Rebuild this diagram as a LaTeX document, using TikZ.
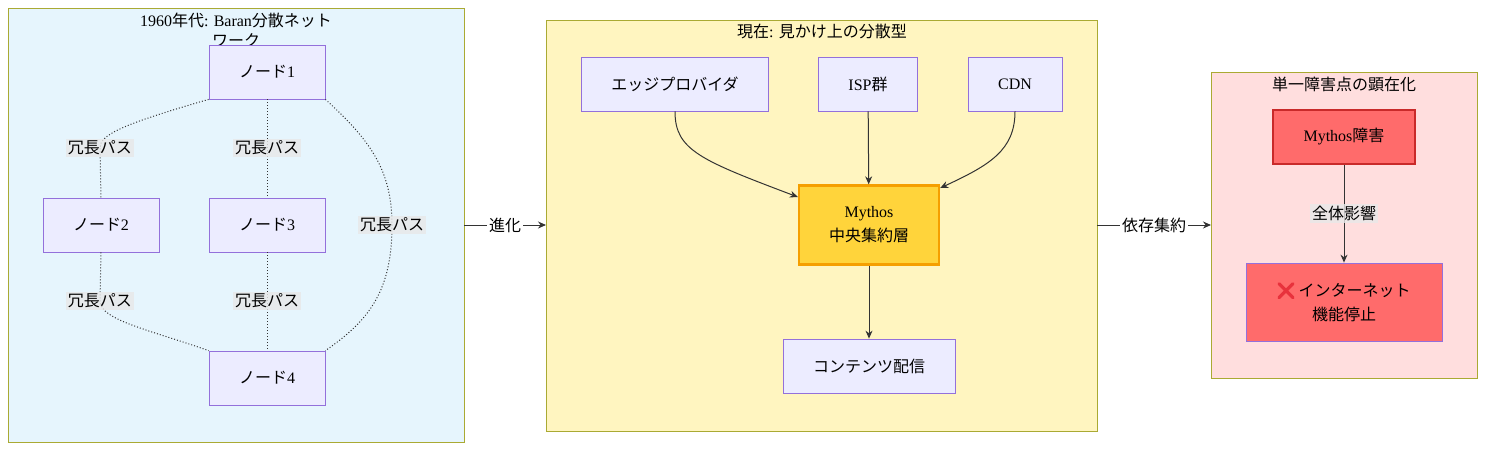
\documentclass[tikz,border=0pt]{standalone}
\usepackage{fontspec}
\setmainfont{Liberation Serif}
\newfontfamily\jp{Noto Sans CJK JP}
\usetikzlibrary{arrows.meta}
\definecolor{nfill}{HTML}{ECECFF}
\definecolor{nline}{HTML}{9370DB}
\definecolor{cline}{HTML}{AAAA33}
\definecolor{lbl}{HTML}{E8E8E8}
\definecolor{xred}{HTML}{E8323C}
\newcommand{\J}[1]{{\jp #1}}
\newcommand{\redx}{\tikz[baseline=-0.5pt,x=1pt,y=1pt]{\draw[xred,line width=1.6pt,line cap=round] (0,-1) -- (7,6) (0,6) -- (7,-1);}}
\begin{document}
\begin{tikzpicture}[x=0.5pt,y=-0.5pt,font=\fontsize{8}{10}\selectfont,
 nd/.style={draw=nline,fill=nfill,line width=0.4pt,align=center,inner sep=0},
 el/.style={fill=lbl,fill opacity=0.8,text opacity=1,inner sep=1pt},
 dl/.style={densely dotted,line width=0.5pt,draw=black!80},
 ar/.style={-{Stealth[length=4pt,width=3.5pt]},line width=0.5pt,draw=black!80},
 cl/.style={draw=cline,line width=0.4pt}]
\useasboundingbox (0,0) rectangle (1485,451);
% clusters
\draw[cl,fill={rgb,255:red,230;green,245;blue,253}] (8,8) rectangle (464,442);
\draw[cl,fill={rgb,255:red,255;green,245;blue,192}] (546,20) rectangle (1097,431);
\draw[cl,fill={rgb,255:red,255;green,222;blue,222}] (1211,72) rectangle (1477,378);
\node[align=center] (t1) at (236,30) {1960\J{年代}: Baran\J{分散ネット}\\[0pt]\J{ワーク}};
\node (t2) at (822,31) {\J{現在}: \J{見かけ上の分散型}};
\node (t3) at (1344,84) {\J{単一障害点の顕在化}};
% left nodes
\node[nd,minimum width=58pt,minimum height=27pt] (n1) at (267,72) {\J{ノード}1};
\node[nd,minimum width=58pt,minimum height=27pt] (n2) at (101,225) {\J{ノード}2};
\node[nd,minimum width=58pt,minimum height=27pt] (n3) at (267,225) {\J{ノード}3};
\node[nd,minimum width=58pt,minimum height=27pt] (n4) at (267,378) {\J{ノード}4};
\coordinate (l12) at (100,148);
\coordinate (l24) at (100,301);
\coordinate (l14) at (392,225);
\draw[dl] (n1.south west) .. controls (120,125) and (100,135) .. (l12) -- (n2.north);
\draw[dl] (n1) -- (n3);
\draw[dl] (n1.south east) .. controls (370,140) and (392,170) .. (l14) .. controls (392,290) and (370,320) .. (n4.north east);
\draw[dl] (n2.south) -- (l24) .. controls (100,320) and (150,330) .. (n4.north west);
\draw[dl] (n3) -- (n4);
\node[el] at (l12) {\J{冗長パス}};
\node[el] at (267,148) {\J{冗長パス}};
\node[el] at (l14) {\J{冗長パス}};
\node[el] at (l24) {\J{冗長パス}};
\node[el] at (267,301) {\J{冗長パス}};
% middle
\node[nd,minimum width=93.5pt,minimum height=27pt] (e) at (675,84) {\J{エッジプロバイダ}};
\node[nd,minimum width=49.5pt,minimum height=27pt] (isp) at (868,84) {ISP\J{群}};
\node[nd,minimum width=47pt,minimum height=27pt] (cdn) at (1015,84) {CDN};
\node[nd,draw={rgb,255:red,245;green,159;blue,0},line width=1.2pt,fill={rgb,255:red,255;green,212;blue,59},minimum width=70pt,minimum height=39.5pt] (m) at (869,225) {Mythos\\[2pt]\J{中央集約層}};
\node[nd,minimum width=86pt,minimum height=27pt] (c) at (869,366) {\J{コンテンツ配信}};
\draw[ar] (e.south) .. controls (675,150) and (700,160) .. (m.north west|-800,197);
\draw[ar] (isp) -- (m);
\draw[ar] (cdn.south) .. controls (1015,150) and (990,165) .. (m.north east|-940,188);
\draw[ar] (m) -- (c);
% between clusters
\coordinate (a1) at (464,225); \coordinate (a2) at (546,225);
\draw[ar] (a1) -- node[el,fill opacity=1,fill={rgb,255:red,255;green,255;blue,255}] {\J{進化}} (a2);
\coordinate (b1) at (1097,225); \coordinate (b2) at (1211,225);
\draw[ar] (b1) -- node[el,fill opacity=1,fill={rgb,255:red,255;green,255;blue,255}] {\J{依存集約}} (b2);
% right
\node[nd,draw={rgb,255:red,201;green,42;blue,42},line width=0.8pt,fill={rgb,255:red,255;green,107;blue,107},minimum width=71pt,minimum height=27pt] (f) at (1344,137) {Mythos\J{障害}};
\node[nd,fill={rgb,255:red,255;green,107;blue,107},minimum width=98pt,minimum height=39pt] (i) at (1344,302) {\redx\ \J{インターネット}\\[2pt]\J{機能停止}};
\draw[ar] (f) -- node[el] {\J{全体影響}} (i);
\end{tikzpicture}
\end{document}
